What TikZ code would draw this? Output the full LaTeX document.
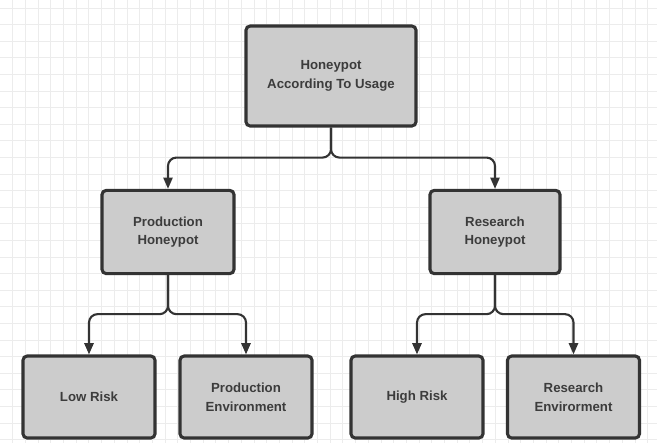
\documentclass[tikz,border=0pt]{standalone}
\usepackage{fontspec}
\setmainfont{Liberation Sans}
\usetikzlibrary{arrows.meta}
\definecolor{boxgray}{HTML}{CCCCCC}
\definecolor{edgegray}{HTML}{333333}
\definecolor{textgray}{HTML}{3C3C3C}
\definecolor{gridgray}{HTML}{ECECEC}

\begin{document}
\begin{tikzpicture}[x=0.025cm, y=-0.025cm,
    hpbox/.style={draw=edgegray, fill=boxgray, line width=2.2pt, rounded corners=3pt,
        align=center, text=textgray, font=\fontsize{9.4}{13.2}\selectfont\bfseries},
    branch/.style={draw=edgegray, line width=1.5pt, rounded corners=6pt,
        -{Triangle[length=8pt,width=6.5pt]}}]
    % Background grid
    \useasboundingbox (0,0) rectangle (657,443);
    \foreach \gx in {12.7,25.4,...,657} \draw[gridgray, line width=0.6pt] (\gx,0) -- (\gx,443);
    \foreach \gy in {8,24.6,...,443} \draw[gridgray, line width=0.6pt] (0,\gy) -- (657,\gy);

    % Root
    \node[hpbox, minimum width=4.25cm, minimum height=2.5cm] (usage) at (331,76) {Honeypot\\According To Usage};

    % Second level
    \node[hpbox, minimum width=3.3cm, minimum height=2.08cm] (production) at (168,232) {Production\\Honeypot};
    \node[hpbox, minimum width=3.25cm, minimum height=2.08cm] (research) at (495,232) {Research\\Honeypot};

    % Leaves
    \node[hpbox, minimum width=3.3cm, minimum height=2.05cm] (lowrisk) at (89,397) {Low Risk};
    \node[hpbox, minimum width=3.3cm, minimum height=2.05cm] (prodenv) at (246,397) {Production\\Environment};
    \node[hpbox, minimum width=3.3cm, minimum height=2.05cm] (highrisk) at (417,397) {High Risk};
    \node[hpbox, minimum width=3.3cm, minimum height=2.05cm] (resenv) at (573.5,397) {Research\\Envirorment};

    % Connectors
    \draw[branch] (usage.south) -- ++(0,30) -| (production.north);
    \draw[branch] (usage.south) -- ++(0,30) -| (research.north);
    \draw[branch] (production.south) -- ++(0,39) -| (lowrisk.north);
    \draw[branch] (production.south) -- ++(0,39) -| (prodenv.north);
    \draw[branch] (research.south) -- ++(0,39) -| (highrisk.north);
    \draw[branch] (research.south) -- ++(0,39) -| (resenv.north);
\end{tikzpicture}
\end{document}
